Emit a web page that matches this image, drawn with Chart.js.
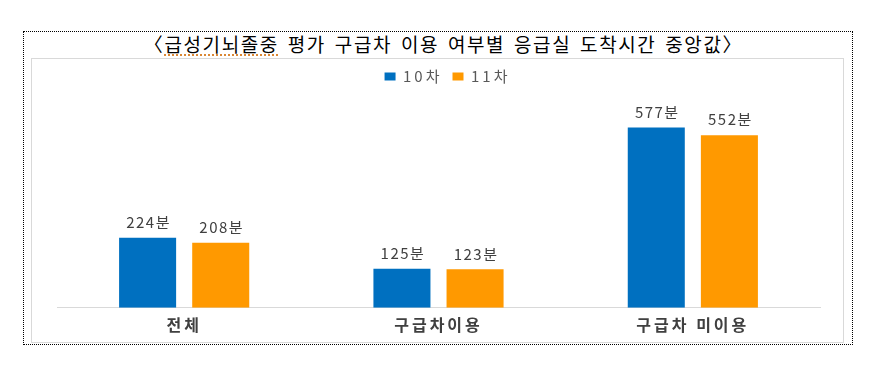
<!DOCTYPE html>
<html>
<head>
<meta charset="utf-8">
<script src="https://cdn.jsdelivr.net/npm/chart.js@4"></script>
<style>
  html, body { margin: 0; padding: 0; background: #fff; }
  body { width: 887px; height: 375px; position: relative; overflow: hidden; }
  #frame {
    position: absolute; left: 23px; top: 31px; width: 830px; height: 314px;
    border: 1px dotted #000; box-sizing: border-box;
  }
  #title {
    position: absolute; left: 0; top: 32px; width: 887px; text-align: center;
    font-family: "Noto Sans CJK KR", sans-serif; font-size: 19px; line-height: 23px;
    color: #000; letter-spacing: 1.6px; word-spacing: 3px;
  }
  #title .sp { text-decoration: underline dotted #d9822b; text-underline-offset: 3px; }
  #box {
    position: absolute; left: 31px; top: 58px; width: 813px; height: 285px;
    border: 1px solid #d9d9d9; box-sizing: border-box;
  }
  #box canvas { display: block; }
</style>
</head>
<body>
<div id="frame"></div>
<div id="title">〈<span class="sp">급성기뇌졸중</span> 평가 구급차 이용 여부별 응급실 도착시간 중앙값〉</div>
<div id="box"><canvas id="chart" width="811" height="283"></canvas></div>
<script>
const categories = ["전체", "구급차이용", "구급차 미이용"];
const seriesNames = ["10차", "11차"];
const round10 = [224, 125, 577];
const round11 = [208, 123, 552];
const unit = "분";

const FONT = "'Noto Sans CJK KR', sans-serif";

const spacing = {
  id: "spacing",
  beforeDraw(chart) { chart.ctx.letterSpacing = "3px"; }
};

const barLabels = {
  id: "barLabels",
  afterDatasetsDraw(chart) {
    const ctx = chart.ctx;
    ctx.save();
    ctx.letterSpacing = "1.5px";
    ctx.font = "15px " + FONT;
    ctx.fillStyle = "#404040";
    ctx.textAlign = "center";
    ctx.textBaseline = "bottom";
    chart.data.datasets.forEach((ds, i) => {
      chart.getDatasetMeta(i).data.forEach((bar, j) => {
        ctx.fillText(ds.data[j] + unit, bar.x + 1, bar.y - 8);
      });
    });
    ctx.restore();
  }
};

new Chart(document.getElementById("chart"), {
  type: "bar",
  data: {
    labels: categories,
    datasets: [
      { label: seriesNames[0], data: round10, backgroundColor: "rgb(0, 112, 192)" },
      { label: seriesNames[1], data: round11, backgroundColor: "rgb(255, 153, 0)" }
    ]
  },
  options: {
    responsive: false,
    animation: false,
    layout: { padding: { left: 25, right: 23, top: 0, bottom: 7 } },
    datasets: { bar: { categoryPercentage: 0.575, barPercentage: 0.78 } },
    plugins: {
      legend: {
        position: "top",
        labels: {
          boxWidth: 11, boxHeight: 8, padding: 10,
          color: "#595959",
          font: { family: FONT, size: 15 }
        }
      },
      tooltip: { enabled: false }
    },
    scales: {
      x: {
        grid: { display: false },
        border: { display: true, color: "#d9d9d9", width: 1 },
        ticks: {
          color: "#404040", padding: 0,
          font: { family: FONT, size: 16, weight: "bold" }
        }
      },
      y: { display: false, min: 0, max: 684 }
    }
  },
  plugins: [spacing, barLabels]
});
</script>
</body>
</html>
